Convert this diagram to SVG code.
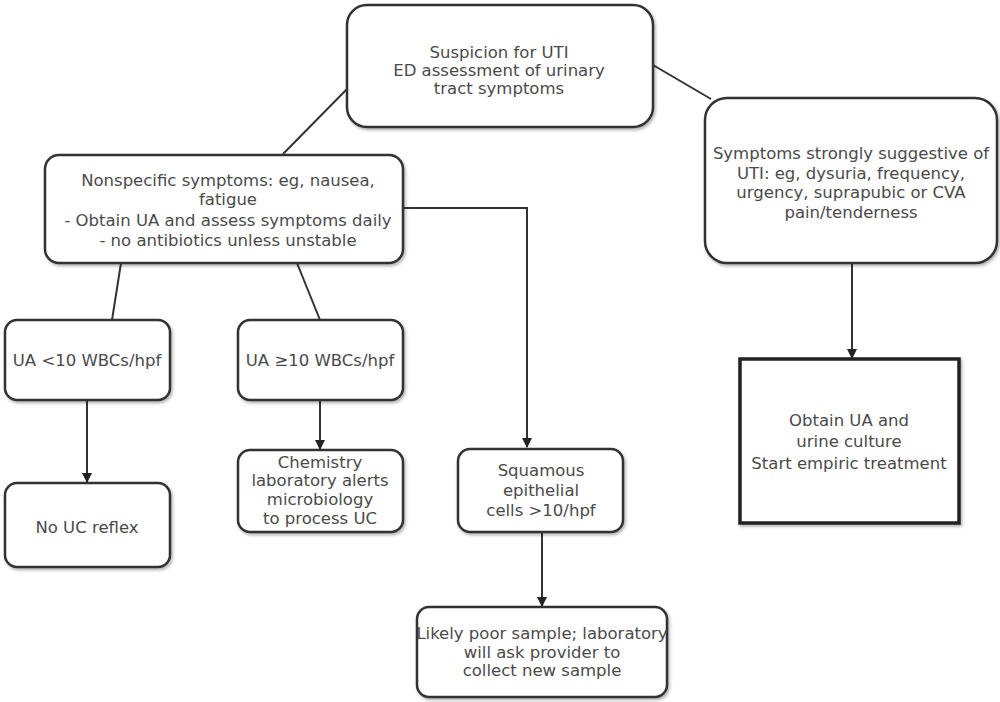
<svg xmlns="http://www.w3.org/2000/svg" width="1000" height="702" viewBox="0 0 1000 702">
<defs>
<filter id="sh" x="-10%" y="-10%" width="120%" height="130%">
<feDropShadow dx="1.5" dy="2" stdDeviation="1.5" flood-color="#000" flood-opacity="0.3"/>
</filter>
<marker id="arr" viewBox="0 0 10 10" refX="9" refY="5" markerWidth="10" markerHeight="10" markerUnits="userSpaceOnUse" orient="auto">
<path d="M0,0 L10,5 L0,10 z" fill="#222"/>
</marker>
</defs>
<style>
.box{fill:#fff;stroke:#333;stroke-width:2.5;filter:url(#sh)}
.sq{fill:#fff;stroke:#222;stroke-width:3.5;filter:url(#sh)}
text{font-family:"DejaVu Sans",Verdana,sans-serif;font-size:16.5px;fill:#4a4a4a;text-anchor:middle}
.c{fill:none;stroke:#333;stroke-width:2}
</style>
<rect width="1000" height="702" fill="#fff"/>
<g id="connectors">
<line class="c" x1="349" y1="87" x2="283" y2="154"/>
<line class="c" x1="653" y1="65" x2="711" y2="99"/>
<line class="c" x1="121" y1="263" x2="112" y2="320"/>
<line class="c" x1="297" y1="263" x2="320" y2="320"/>
<polyline class="c" points="403,208 527,208 527,447" marker-end="url(#arr)"/>
<line class="c" x1="852" y1="263" x2="852" y2="358" marker-end="url(#arr)"/>
<line class="c" x1="87" y1="400" x2="87" y2="482" marker-end="url(#arr)"/>
<line class="c" x1="320" y1="400" x2="320" y2="449" marker-end="url(#arr)"/>
<line class="c" x1="542" y1="532" x2="542" y2="606" marker-end="url(#arr)"/>
</g>
<g id="n-suspicion">
<rect class="box" x="347" y="5" width="306" height="122" rx="20"/>
<text x="499" y="58">Suspicion for UTI</text>
<text x="499" y="76">ED assessment of urinary</text>
<text x="499" y="94">tract symptoms</text>
</g>
<g id="n-nonspecific">
<rect class="box" x="45" y="155" width="358" height="108" rx="14"/>
<text x="228" y="186">Nonspecific symptoms: eg, nausea,</text>
<text x="228" y="205">fatigue</text>
<text x="228" y="226">- Obtain UA and assess symptoms daily</text>
<text x="228" y="246">-  no antibiotics unless unstable</text>
</g>
<g id="n-strong">
<rect class="box" x="705" y="98" width="292" height="165" rx="22"/>
<text x="851" y="159">Symptoms strongly suggestive of</text>
<text x="851" y="179">UTI: eg, dysuria, frequency,</text>
<text x="851" y="198">urgency, suprapubic or CVA</text>
<text x="851" y="218">pain/tenderness</text>
</g>
<g id="n-obtain">
<rect class="sq" x="740" y="359" width="219" height="164"/>
<text x="849" y="426">Obtain UA and</text>
<text x="849" y="447">urine culture</text>
<text x="849" y="469">Start empiric treatment</text>
</g>
<g id="n-ua-low">
<rect class="box" x="5" y="320" width="165" height="80" rx="12"/>
<text x="87" y="366">UA &lt;10 WBCs/hpf</text>
</g>
<g id="n-ua-high">
<rect class="box" x="238" y="320" width="165" height="80" rx="12"/>
<text x="320" y="366">UA ≥10 WBCs/hpf</text>
</g>
<g id="n-no-uc">
<rect class="box" x="5" y="483" width="165" height="84" rx="12"/>
<text x="87" y="533">No UC reflex</text>
</g>
<g id="n-chemistry">
<rect class="box" x="238" y="450" width="165" height="82" rx="12"/>
<text x="320" y="468">Chemistry</text>
<text x="320" y="486">laboratory alerts</text>
<text x="320" y="505">microbiology</text>
<text x="320" y="524">to process UC</text>
</g>
<g id="n-squamous">
<rect class="box" x="458" y="449" width="165" height="83" rx="12"/>
<text x="541" y="476">Squamous</text>
<text x="541" y="496">epithelial</text>
<text x="541" y="516">cells &gt;10/hpf</text>
</g>
<g id="n-likely">
<rect class="box" x="417" y="607" width="250" height="90" rx="12"/>
<text x="542" y="639">Likely poor sample; laboratory</text>
<text x="542" y="658">will ask provider to</text>
<text x="542" y="676">collect new sample</text>
</g>
</svg>
